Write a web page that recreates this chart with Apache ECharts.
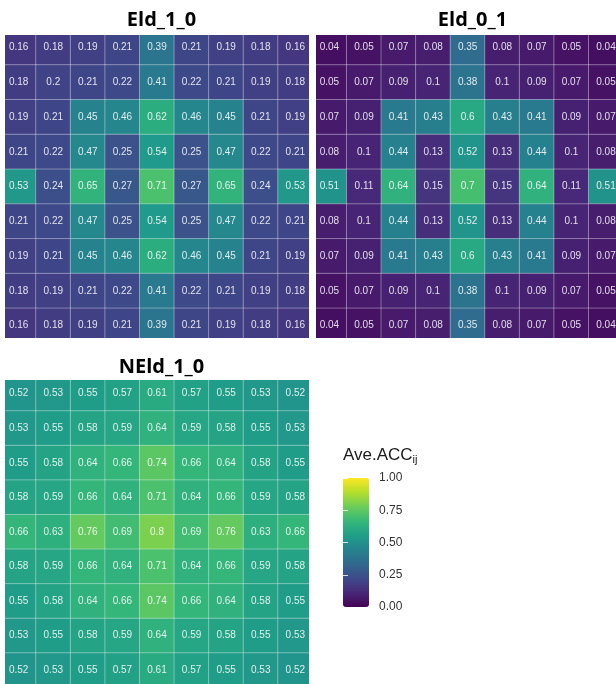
<!DOCTYPE html>
<html><head><meta charset="utf-8">
<script src="https://cdn.jsdelivr.net/npm/echarts@6/dist/echarts.min.js"></script>
<style>html,body{margin:0;padding:0;background:#fff}#c{width:616px;height:684px}</style>
</head><body><div id="c"></div>
<script>
var cols = ['1','2','3','4','5','6','7','8','9'];
var rows = ['1','2','3','4','5','6','7','8','9'];
var titles = ['Eld_1_0', 'Eld_0_1', 'NEld_1_0'];

var eld10 = [
  [0.16,0.18,0.19,0.21,0.39,0.21,0.19,0.18,0.16],
  [0.18,0.2,0.21,0.22,0.41,0.22,0.21,0.19,0.18],
  [0.19,0.21,0.45,0.46,0.62,0.46,0.45,0.21,0.19],
  [0.21,0.22,0.47,0.25,0.54,0.25,0.47,0.22,0.21],
  [0.53,0.24,0.65,0.27,0.71,0.27,0.65,0.24,0.53],
  [0.21,0.22,0.47,0.25,0.54,0.25,0.47,0.22,0.21],
  [0.19,0.21,0.45,0.46,0.62,0.46,0.45,0.21,0.19],
  [0.18,0.19,0.21,0.22,0.41,0.22,0.21,0.19,0.18],
  [0.16,0.18,0.19,0.21,0.39,0.21,0.19,0.18,0.16]
];
var eld01 = [
  [0.04,0.05,0.07,0.08,0.35,0.08,0.07,0.05,0.04],
  [0.05,0.07,0.09,0.1,0.38,0.1,0.09,0.07,0.05],
  [0.07,0.09,0.41,0.43,0.6,0.43,0.41,0.09,0.07],
  [0.08,0.1,0.44,0.13,0.52,0.13,0.44,0.1,0.08],
  [0.51,0.11,0.64,0.15,0.7,0.15,0.64,0.11,0.51],
  [0.08,0.1,0.44,0.13,0.52,0.13,0.44,0.1,0.08],
  [0.07,0.09,0.41,0.43,0.6,0.43,0.41,0.09,0.07],
  [0.05,0.07,0.09,0.1,0.38,0.1,0.09,0.07,0.05],
  [0.04,0.05,0.07,0.08,0.35,0.08,0.07,0.05,0.04]
];
var neld10 = [
  [0.52,0.53,0.55,0.57,0.61,0.57,0.55,0.53,0.52],
  [0.53,0.55,0.58,0.59,0.64,0.59,0.58,0.55,0.53],
  [0.55,0.58,0.64,0.66,0.74,0.66,0.64,0.58,0.55],
  [0.58,0.59,0.66,0.64,0.71,0.64,0.66,0.59,0.58],
  [0.66,0.63,0.76,0.69,0.8,0.69,0.76,0.63,0.66],
  [0.58,0.59,0.66,0.64,0.71,0.64,0.66,0.59,0.58],
  [0.55,0.58,0.64,0.66,0.74,0.66,0.64,0.58,0.55],
  [0.53,0.55,0.58,0.59,0.64,0.59,0.58,0.55,0.53],
  [0.52,0.53,0.55,0.57,0.61,0.57,0.55,0.53,0.52]
];

var viridis = ['#440154','#482878','#3E4A89','#31688E','#26828E','#1F9E89','#35B779','#6DCD59','#B4DE2C','#FDE725'];

function toCells(m) {
  var out = [];
  for (var r = 0; r < m.length; r++)
    for (var c = 0; c < m[r].length; c++)
      out.push([c, r, m[r][c]]);
  return out;
}

var mats = [eld10, eld01, neld10];
var grids = [
  {left: 1.4, top: 30.2, width: 311.2, height: 312.9, outerBoundsMode: 'none'},
  {left: 312.1, top: 30.2, width: 311.2, height: 312.9, outerBoundsMode: 'none'},
  {left: 1.4, top: 376.4, width: 311.2, height: 311.2, outerBoundsMode: 'none'},
  {left: 343, top: 478, width: 26, height: 129, outerBoundsMode: 'none'}
];
var titleCenters = [156.5, 467.5, 156.5];
var titleTops = [5, 5, 352];
var titleFont = '"Open Sans", "Noto Sans", sans-serif';
var labelFont = '"Liberation Sans", Arial, sans-serif';
var xAxes = [], yAxes = [], series = [], titleArr = [];
for (var i = 0; i < 3; i++) {
  xAxes.push({type: 'category', data: cols, gridIndex: i, show: false});
  yAxes.push({type: 'category', data: rows, gridIndex: i, show: false, inverse: true});
  series.push({
    type: 'heatmap', xAxisIndex: i, yAxisIndex: i, data: toCells(mats[i]),
    itemStyle: {borderColor: 'rgba(255,255,255,0.35)', borderWidth: 1},
    label: {show: true, color: 'rgba(255,255,255,0.85)', fontSize: 10, fontFamily: labelFont,
      formatter: function (p) { return String(p.value[2]); }},
    emphasis: {disabled: true}
  });
  titleArr.push({
    text: titles[i], textAlign: 'center', left: titleCenters[i], top: titleTops[i], z: 20,
    textStyle: {fontSize: 20, fontWeight: 'bold', color: '#000', fontFamily: titleFont}
  });
}
// legend axis grid
xAxes.push({type: 'value', gridIndex: 3, show: false, min: 0, max: 1});
yAxes.push({type: 'value', gridIndex: 3, min: 0, max: 1, interval: 0.25, position: 'right', z: 30,
  axisLine: {show: false}, splitLine: {show: false},
  axisTick: {show: true, inside: true, length: 5, lineStyle: {color: 'rgba(255,255,255,0.8)', width: 1}},
  axisLabel: {show: true, margin: 10, fontSize: 12, color: '#333', fontFamily: labelFont,
    formatter: function (v) { return v.toFixed(2); }}
});
yAxes.push({type: 'value', gridIndex: 3, min: 0, max: 1, interval: 0.25, position: 'left', z: 30,
  axisLine: {show: false}, splitLine: {show: false}, axisLabel: {show: false},
  axisTick: {show: true, inside: true, length: 5, lineStyle: {color: 'rgba(255,255,255,0.8)', width: 1}}
});

// white masks trimming the outer cells at the panel edges
var masks = [
  [0, 0, 5, 684], [309, 0, 7, 684], [0, 0, 616, 35], [0, 338, 616, 42]
].map(function (r) {
  return {type: 'rect', z: 15, silent: true, shape: {x: r[0], y: r[1], width: r[2], height: r[3]}, style: {fill: '#fff'}};
});

var chart = echarts.init(document.getElementById('c'), null, {renderer: 'canvas'});
chart.setOption({
  animation: false,
  backgroundColor: '#fff',
  title: titleArr,
  grid: grids,
  xAxis: xAxes,
  yAxis: yAxes,
  visualMap: {
    type: 'continuous', min: 0, max: 1, seriesIndex: [0, 1, 2], z: 25,
    calculable: false, hoverLink: false, realtime: false,
    orient: 'vertical', left: 343, top: 478, padding: 0,
    itemWidth: 26, itemHeight: 129, text: null, showLabel: false,
    inRange: {color: viridis}
  },
  graphic: masks.concat([{
    type: 'text', left: 343, top: 447, z: 30,
    style: {
      text: '{m|Ave.ACC}{s|ij}',
      rich: {
        m: {fontSize: 17, fill: '#1a1a1a', fontFamily: labelFont},
        s: {fontSize: 11, fill: '#1a1a1a', fontFamily: labelFont, padding: [9, 0, 0, 0]}
      }
    }
  }]),
  series: series
});
</script>
</body></html>
